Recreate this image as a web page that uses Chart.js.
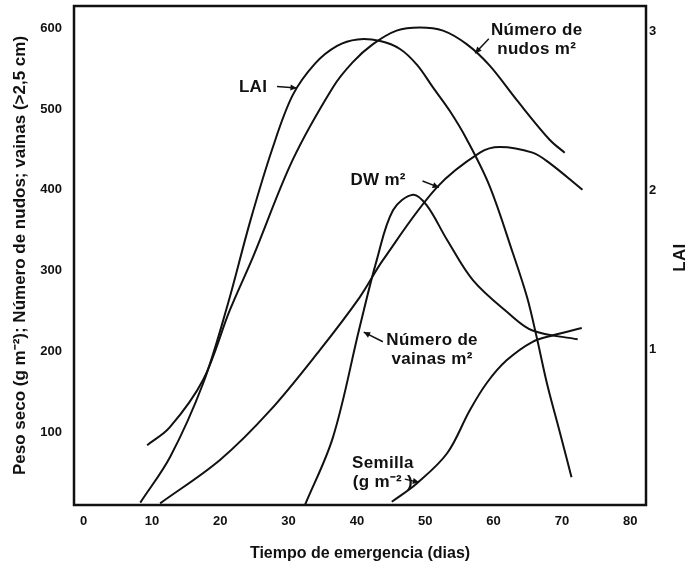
<!DOCTYPE html>
<html>
<head>
<meta charset="utf-8">
<script src="https://cdn.jsdelivr.net/npm/chart.js@4.4.0/dist/chart.umd.min.js"></script>
<style>
  html, body { margin: 0; padding: 0; background: #fff; }
</style>
</head>
<body>
<canvas id="grafico" width="690" height="573"></canvas>
<script>
// datos (dias desde emergencia)
var laiDias    = [8.3, 12.7, 17.5, 21.0, 24.4, 27.6, 30.6, 33.9, 37.1, 40.1, 43.4, 46.3, 48.8, 51.1, 53.6, 56.1, 59.4, 62.8, 64.9, 66.3, 67.8, 69.7, 71.4];
var laiValores = [0.04, 0.33, 0.79, 1.27, 1.81, 2.26, 2.60, 2.80, 2.91, 2.95, 2.94, 2.89, 2.79, 2.65, 2.50, 2.32, 2.03, 1.61, 1.33, 1.08, 0.79, 0.48, 0.20];

var nudosDias    = [9.3, 12.6, 17.5, 21.4, 24.8, 30.6, 36.5, 39.4, 42.3, 45.8, 49.2, 52.6, 56.1, 59.4, 63.4, 68.2, 70.4];
var nudosValores = [84, 106, 165, 251, 317, 437, 527, 558, 580, 597, 601, 597, 580, 554, 511, 462, 446];

var dwDias    = [11.2, 20.0, 27.3, 34.6, 40.4, 43.8, 51.7, 58.0, 60.9, 65.7, 68.2, 73.0];
var dwValores = [12, 66, 127, 202, 267, 313, 403, 446, 453, 446, 433, 400];

var vainasDias    = [32.4, 36.5, 40.4, 42.9, 45.3, 48.2, 50.2, 53.2, 57.0, 62.1, 65.7, 72.3];
var vainasValores = [10, 94, 230, 313, 375, 394, 381, 338, 288, 248, 226, 215];

var semillaDias    = [45.1, 48.8, 53.2, 56.5, 59.0, 61.9, 65.7, 68.7, 72.9];
var semillaValores = [14, 37, 74, 127, 161, 189, 212, 220, 229];

var xTicks = [0, 10, 20, 30, 40, 50, 60, 70, 80];
var yTicks = [100, 200, 300, 400, 500, 600];
var laiTicks = [1, 2, 3];

var fuente = '"Liberation Sans", Arial, sans-serif';
var negro = '#111';

function puntos(dias, valores) {
    return dias.map(function(d, i) { return { x: d, y: valores[i] }; });
}

function serie(dias, valores, eje) {
    return {
        data: puntos(dias, valores),
        yAxisID: eje,
        borderColor: negro,
        borderWidth: 2,
        pointRadius: 0,
        fill: false,
        tension: 0.35
    };
}

// etiquetas con flecha, en unidades de los ejes
var etiquetas = [
    { lineas: ['LAI'], x: 24.8, y: 527, flecha: [28.3, 528, 31.2, 526] },
    { lineas: ['Número de', 'nudos m²'], x: 66.3, y: 598, flecha: [59.3, 587, 57.3, 569] },
    { lineas: ['DW m²'], x: 43.1, y: 412, flecha: [49.6, 411, 52.0, 403] },
    { lineas: ['Número de', 'vainas m²'], x: 51.0, y: 214, flecha: [43.8, 212, 41.0, 224] },
    { lineas: ['Semilla', '(g m⁻² )'], x: 43.8, y: 61, flecha: [47.0, 42, 49.1, 38] }
];

function flecha(ctx, x1, y1, x2, y2) {
    var ang = Math.atan2(y2 - y1, x2 - x1);
    var t = 7;
    ctx.beginPath();
    ctx.moveTo(x1, y1);
    ctx.lineTo(x2, y2);
    ctx.stroke();
    ctx.beginPath();
    ctx.moveTo(x2, y2);
    ctx.lineTo(x2 - t * Math.cos(ang - 0.45), y2 - t * Math.sin(ang - 0.45));
    ctx.lineTo(x2 - t * Math.cos(ang + 0.45), y2 - t * Math.sin(ang + 0.45));
    ctx.closePath();
    ctx.fill();
}

var extras = {
    id: 'extras',
    afterDatasetsDraw: function(chart) {
        var ctx = chart.ctx;
        var a = chart.chartArea;
        var sx = chart.scales.x, sy = chart.scales.y;
        ctx.save();
        // marco
        ctx.strokeStyle = negro;
        ctx.lineWidth = 2.5;
        ctx.strokeRect(a.left, a.top, a.right - a.left, a.bottom - a.top);

        ctx.fillStyle = negro;
        ctx.font = 'bold 17px ' + fuente;
        ctx.letterSpacing = '0.3px';
        ctx.textAlign = 'center';
        ctx.textBaseline = 'middle';

        // titulo del eje derecho, de abajo hacia arriba
        ctx.save();
        ctx.translate(680, (a.top + a.bottom) / 2 + 2);
        ctx.rotate(-Math.PI / 2);
        ctx.fillText('LAI', 0, 0);
        ctx.restore();

        // etiquetas
        ctx.lineWidth = 1.5;
        etiquetas.forEach(function(e) {
            var px = sx.getPixelForValue(e.x);
            var py = sy.getPixelForValue(e.y);
            e.lineas.forEach(function(l, i) {
                ctx.fillText(l, px, py + i * 19);
            });
            var f = e.flecha;
            flecha(ctx, sx.getPixelForValue(f[0]), sy.getPixelForValue(f[1]),
                        sx.getPixelForValue(f[2]), sy.getPixelForValue(f[3]));
        });
        ctx.restore();
    }
};

function fijarTicks(lista) {
    return function(scale) {
        scale.ticks = lista.map(function(v) { return { value: v }; });
    };
}

function sinRelleno(scale) {
    scale.paddingTop = 0;
    scale.paddingBottom = 0;
    scale.paddingLeft = 0;
    scale.paddingRight = 0;
}

new Chart(document.getElementById('grafico'), {
    type: 'line',
    data: {
        datasets: [
            serie(laiDias, laiValores, 'y2'),
            serie(nudosDias, nudosValores, 'y'),
            serie(dwDias, dwValores, 'y'),
            serie(vainasDias, vainasValores, 'y'),
            serie(semillaDias, semillaValores, 'y')
        ]
    },
    options: {
        responsive: false,
        animation: false,
        layout: { padding: { top: 6, left: 0, right: 0, bottom: 0 } },
        plugins: { legend: { display: false }, tooltip: { enabled: false } },
        scales: {
            x: {
                type: 'linear',
                min: -1.4,
                max: 82.3,
                grid: { display: false, drawTicks: false },
                border: { display: false },
                afterBuildTicks: fijarTicks(xTicks),
                afterFit: function(s) { s.height = 68; sinRelleno(s); },
                ticks: { autoSkip: false, maxRotation: 0, padding: 9, color: negro, font: { family: fuente, size: 13, weight: 'bold' } },
                title: { display: true, text: 'Tiempo de emergencia (dias)', color: negro, padding: { top: 0, bottom: 10 }, font: { family: fuente, size: 16, weight: 'bold' } }
            },
            y: {
                position: 'left',
                min: 10,
                max: 627.5,
                grid: { display: false, drawTicks: false },
                border: { display: false },
                afterBuildTicks: fijarTicks(yTicks),
                afterFit: function(s) { s.width = 74; sinRelleno(s); },
                ticks: { padding: 12, color: negro, font: { family: fuente, size: 13, weight: 'bold' } },
                title: { display: true, text: 'Peso seco (g m⁻²); Número de nudos; vainas (>2,5 cm)', color: negro, padding: { top: 10, bottom: 0 }, font: { family: fuente, size: 17, weight: 'bold' } }
            },
            y2: {
                position: 'right',
                min: 0.025,
                max: 3.16,
                grid: { display: false, drawTicks: false },
                border: { display: false },
                afterBuildTicks: fijarTicks(laiTicks),
                afterFit: function(s) { s.width = 44; sinRelleno(s); },
                ticks: { padding: 3, color: negro, font: { family: fuente, size: 13, weight: 'bold' } }
            }
        }
    },
    plugins: [extras]
});
</script>
</body>
</html>
